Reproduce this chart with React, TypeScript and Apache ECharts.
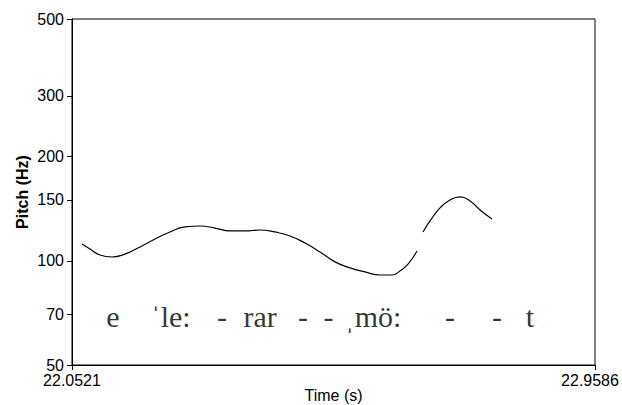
import React, { useEffect, useRef } from "react";
import * as echarts from "echarts";

const timeMin = 22.0521;
const timeMax = 22.9586;
const pitchTicks = [50, 70, 100, 150, 200, 300, 500];
const timeTicks = [22.0521, 22.9586];

const seg1Times = [22.0694, 22.0833, 22.1006, 22.1214, 22.144, 22.17, 22.196, 22.222, 22.248, 22.274, 22.3, 22.326, 22.352, 22.378, 22.404, 22.43, 22.456, 22.482, 22.508, 22.534, 22.56, 22.586, 22.6068, 22.6206, 22.6345, 22.6501];
const seg1Hz = [111.9, 108.2, 104.0, 102.6, 104.6, 109.7, 115.6, 121.2, 125.3, 126.1, 124.4, 122.0, 122.0, 122.8, 121.2, 118.0, 112.6, 106.1, 99.3, 95.4, 92.9, 91.0, 91.0, 93.5, 97.9, 106.8];

const seg2Times = [22.6605, 22.6727, 22.69, 22.7073, 22.7247, 22.742, 22.7593, 22.7801];
const seg2Hz = [121.2, 130.4, 142.2, 150.0, 153.0, 149.0, 140.3, 132.1];

const syllableLabels = ["e", "ˈle:", "-", "rar", "-", "-", "ˌmö:", "-", "-", "t"];
const syllableTimes = [22.1232, 22.2232, 22.3121, 22.378, 22.4525, 22.4965, 22.574, 22.7073, 22.7888, 22.846];
const syllableHz = 69;

export default function App() {
  const ref = useRef<HTMLDivElement>(null);
  useEffect(() => {
    if (!ref.current) return;
    const chart = echarts.init(ref.current, undefined, { renderer: "svg" });
    const font = "Liberation Sans, Arial, sans-serif";
    chart.setOption({
      animation: false,
      backgroundColor: "#ffffff",
      grid: {
        left: 72,
        top: 19,
        right: 27,
        bottom: 40,
        outerBoundsMode: "none",
        containLabel: false,
        show: true,
        borderColor: "#000",
        borderWidth: 1,
        backgroundColor: "transparent",
      },
      xAxis: {
        type: "value",
        min: timeMin,
        max: timeMax,
        name: "Time (s)",
        nameLocation: "middle",
        nameGap: 23,
        nameMoveOverlap: false,
        nameTextStyle: { color: "#000", fontFamily: font, fontSize: 16, lineHeight: 15 },
        axisLine: { show: true, lineStyle: { color: "#000", width: 1 } },
        axisTick: { show: true, customValues: timeTicks, length: 5, lineStyle: { color: "#000" } },
        axisLabel: {
          customValues: timeTicks,
          showMinLabel: true,
          showMaxLabel: true,
          hideOverlap: false,
          margin: 9,
          color: "#000",
          fontFamily: font,
          fontSize: 16,
          lineHeight: 13,
          formatter: (v: number) =>
            v > (timeMin + timeMax) / 2 ? "{mx|" + v.toFixed(4) + "}" : v.toFixed(4),
          rich: {
            mx: { color: "#000", fontFamily: font, fontSize: 16, lineHeight: 13, padding: [0, 10, 0, 0] },
          },
        },
        splitLine: { show: false },
      },
      yAxis: {
        type: "log",
        logBase: 10,
        min: 50,
        max: 500,
        name: "Pitch (Hz)",
        nameLocation: "middle",
        nameGap: 42,
        nameMoveOverlap: false,
        nameTextStyle: { color: "#000", fontFamily: font, fontSize: 16, fontWeight: "bold" },
        axisLine: { show: true, lineStyle: { color: "#000", width: 1 } },
        axisTick: { show: true, customValues: pitchTicks, length: 5, lineStyle: { color: "#000" } },
        axisLabel: {
          customValues: pitchTicks,
          hideOverlap: false,
          margin: 8,
          color: "#000",
          fontFamily: font,
          fontSize: 16,
          lineHeight: 12,
        },
        splitLine: { show: false },
      },
      series: [
        {
          type: "line",
          data: seg1Times.map((t, i) => [t, seg1Hz[i]]),
          smooth: 0.5,
          showSymbol: false,
          lineStyle: { color: "#000", width: 1.2 },
        },
        {
          type: "line",
          data: seg2Times.map((t, i) => [t, seg2Hz[i]]),
          smooth: 0.5,
          showSymbol: false,
          lineStyle: { color: "#000", width: 1.2 },
        },
        {
          type: "scatter",
          symbolSize: 0,
          data: syllableTimes.map((t, i) => ({ value: [t, syllableHz], name: syllableLabels[i] })),
          label: {
            show: true,
            position: "inside",
            formatter: (p: any) => p.name,
            color: "#000",
            fontFamily: "Liberation Serif, Times New Roman, serif",
            fontSize: 30,
          },
          silent: true,
        },
      ],
    });
    return () => chart.dispose();
  }, []);
  return <div ref={ref} style={{ position: "fixed", left: 0, top: 0, width: 622, height: 405 }} />;
}
